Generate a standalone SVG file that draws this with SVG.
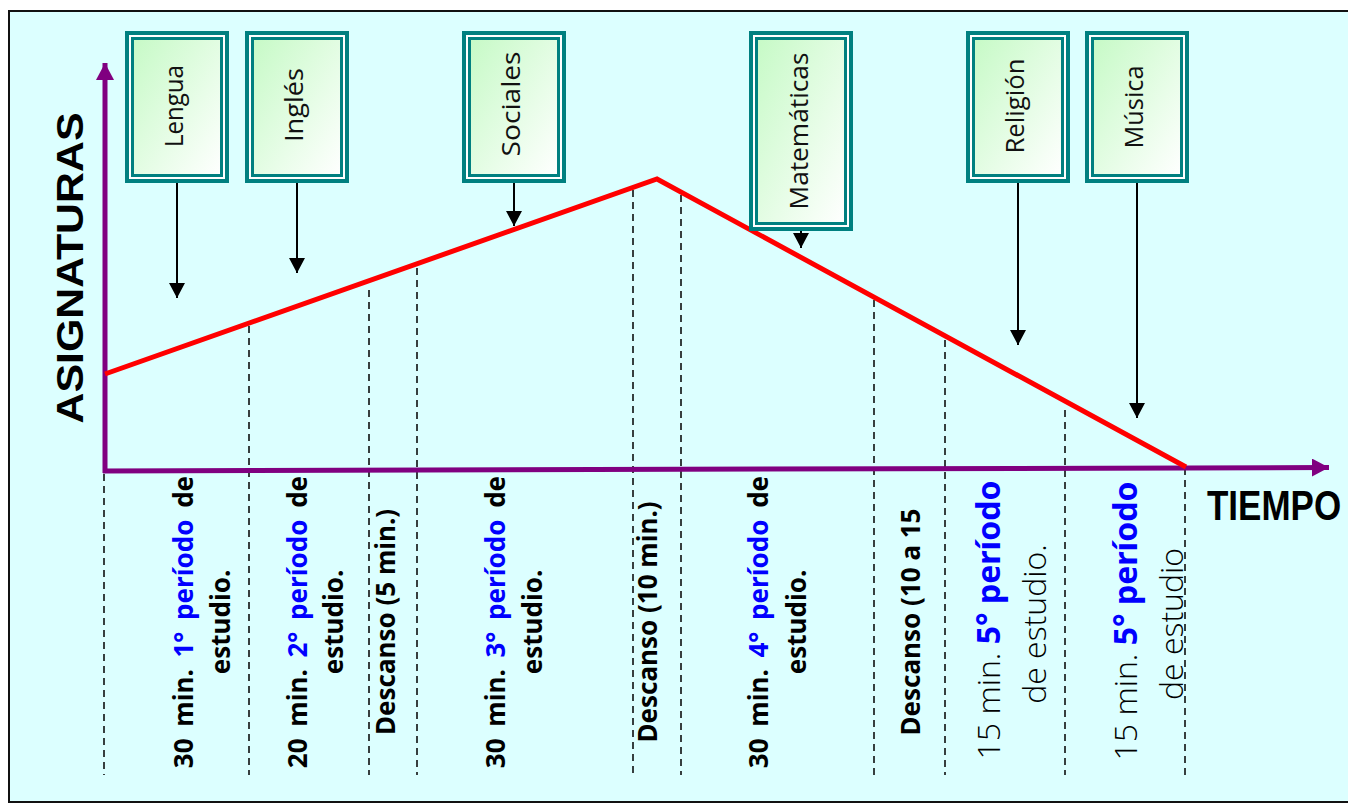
<svg xmlns="http://www.w3.org/2000/svg" width="1348" height="805" viewBox="0 0 1348 805">
<defs>
<linearGradient id="boxg" x1="0" y1="0" x2="1" y2="1">
<stop offset="0" stop-color="#C6FAC6"/>
<stop offset="1" stop-color="#FFFFFF"/>
</linearGradient>
<marker id="ah" viewBox="0 0 15 16" refX="15" refY="8" markerWidth="15" markerHeight="16" markerUnits="userSpaceOnUse" orient="auto">
<path d="M0,0 L15,8 L0,16 z" fill="#000"/>
</marker>
<marker id="ahp" viewBox="0 0 17 18" refX="17" refY="9" markerWidth="17" markerHeight="18" markerUnits="userSpaceOnUse" orient="auto">
<path d="M0,0 L17,9 L0,18 z" fill="#800080"/>
</marker>
</defs>
<style>
.outer{fill:#fff;stroke:#008080;stroke-width:4}
.inner{fill:url(#boxg);stroke:#008080;stroke-width:3}
.bt{font-family:"Open Sans","Noto Sans",sans-serif;font-weight:400;font-size:26px;fill:#111;text-anchor:middle}
.arr{stroke:#000;stroke-width:2;fill:none;marker-end:url(#ah)}
.dash{stroke:#000;stroke-width:1.5;stroke-dasharray:7 5;fill:none}
.lb{font-family:"Noto Sans","Open Sans",sans-serif;font-weight:bold;font-size:26px;fill:#000;text-anchor:middle}
.ln{font-family:"Open Sans","Noto Sans",sans-serif;font-weight:300;font-size:32px;fill:#000;text-anchor:middle}
.blue{fill:#0000FF}
.bb{font-weight:bold;fill:#0000FF;font-family:"Noto Sans","Open Sans",sans-serif}
</style>
<rect x="9" y="11" width="1345" height="791" fill="#DCFFFF" stroke="#111" stroke-width="2"/>

<g id="connectors">
<line class="dash" x1="104" y1="474" x2="104" y2="775"/>
<line class="dash" x1="249" y1="326" x2="249" y2="775"/>
<line class="dash" x1="369" y1="290" x2="369" y2="775"/>
<line class="dash" x1="417" y1="268" x2="417" y2="775"/>
<line class="dash" x1="633" y1="190" x2="633" y2="775"/>
<line class="dash" x1="681" y1="195" x2="681" y2="775"/>
<line class="dash" x1="874" y1="300" x2="874" y2="775"/>
<line class="dash" x1="945" y1="340" x2="945" y2="775"/>
<line class="dash" x1="1065" y1="410" x2="1065" y2="775"/>
<line class="dash" x1="1185" y1="468" x2="1185" y2="780"/>
<line x1="105" y1="473" x2="105" y2="63" stroke="#800080" stroke-width="5" marker-end="url(#ahp)"/>
<line x1="103" y1="471" x2="1329" y2="467.5" stroke="#800080" stroke-width="5" marker-end="url(#ahp)"/>
<polyline points="105,374 657,179 1186,467" fill="none" stroke="#FF0000" stroke-width="5" stroke-linejoin="miter"/>
<line class="arr" x1="177" y1="183" x2="177" y2="298"/>
<line class="arr" x1="297" y1="183" x2="297" y2="273"/>
<line class="arr" x1="514" y1="183" x2="514" y2="226"/>
<line class="arr" x1="801" y1="231" x2="801" y2="248"/>
<line class="arr" x1="1018" y1="183" x2="1018" y2="345"/>
<line class="arr" x1="1137" y1="183" x2="1137" y2="418"/>
</g>

<g id="box-lengua">
<rect class="outer" x="127" y="33" width="100" height="148"/>
<rect class="inner" x="132.5" y="38.5" width="89" height="137"/>
<text class="bt" transform="translate(183,106) rotate(-90)" textLength="82" lengthAdjust="spacingAndGlyphs">Lengua</text>
</g>
<g id="box-ingles">
<rect class="outer" x="247" y="33" width="100" height="148"/>
<rect class="inner" x="252.5" y="38.5" width="89" height="137"/>
<text class="bt" transform="translate(303,105) rotate(-90)" textLength="74" lengthAdjust="spacingAndGlyphs">Inglés</text>
</g>
<g id="box-sociales">
<rect class="outer" x="464" y="33" width="100" height="148"/>
<rect class="inner" x="469.5" y="38.5" width="89" height="137"/>
<text class="bt" transform="translate(520,104) rotate(-90)" textLength="105" lengthAdjust="spacingAndGlyphs">Sociales</text>
</g>
<g id="box-matematicas">
<rect class="outer" x="751" y="33" width="100" height="196"/>
<rect class="inner" x="756.5" y="38.5" width="89" height="185"/>
<text class="bt" transform="translate(808,131) rotate(-90)" textLength="157" lengthAdjust="spacingAndGlyphs">Matemáticas</text>
</g>
<g id="box-religion">
<rect class="outer" x="968" y="33" width="100" height="148"/>
<rect class="inner" x="973.5" y="38.5" width="89" height="137"/>
<text class="bt" transform="translate(1024,106) rotate(-90)" textLength="95" lengthAdjust="spacingAndGlyphs">Religión</text>
</g>
<g id="box-musica">
<rect class="outer" x="1087" y="33" width="100" height="148"/>
<rect class="inner" x="1092.5" y="38.5" width="89" height="137"/>
<text class="bt" transform="translate(1143,107) rotate(-90)" textLength="83" lengthAdjust="spacingAndGlyphs">Música</text>
</g>

<g id="axis-labels">
<text transform="translate(83,268) rotate(-90)" font-family="Liberation Sans,Arial,sans-serif" font-weight="bold" font-size="36" text-anchor="middle" textLength="311" lengthAdjust="spacingAndGlyphs">ASIGNATURAS</text>
<text transform="translate(1207,520) scale(1,1.2)" font-family="Liberation Sans,Arial,sans-serif" font-weight="bold" font-size="35">TIEMPO</text>
</g>

<g id="period-labels">
<text class="lb" transform="translate(193,622) rotate(-90)" word-spacing="5">30 min. <tspan class="blue">1° período</tspan> de</text>
<text class="lb" transform="translate(230,622) rotate(-90)">estudio.</text>
<text class="lb" transform="translate(307,622) rotate(-90)" word-spacing="5">20 min. <tspan class="blue">2° período</tspan> de</text>
<text class="lb" transform="translate(343,622) rotate(-90)">estudio.</text>
<text class="lb" transform="translate(395,622) rotate(-90)">Descanso (5 min.)</text>
<text class="lb" transform="translate(505,622) rotate(-90)" word-spacing="5">30 min. <tspan class="blue">3° período</tspan> de</text>
<text class="lb" transform="translate(542,622) rotate(-90)">estudio.</text>
<text class="lb" transform="translate(657,622) rotate(-90)">Descanso (10 min.)</text>
<text class="lb" transform="translate(768,622) rotate(-90)" word-spacing="5">30 min. <tspan class="blue">4° período</tspan> de</text>
<text class="lb" transform="translate(806,622) rotate(-90)">estudio.</text>
<text class="lb" transform="translate(920,622) rotate(-90)">Descanso (10 a 15</text>
<text class="ln" transform="translate(1000,620) rotate(-90)">15 min. <tspan class="bb">5° período</tspan></text>
<text class="ln" transform="translate(1046,624) rotate(-90)">de estudio.</text>
<text class="ln" transform="translate(1137,621) rotate(-90)">15 min. <tspan class="bb">5° período</tspan></text>
<text class="ln" transform="translate(1183,624) rotate(-90)">de estudio</text>
</g>
</svg>
